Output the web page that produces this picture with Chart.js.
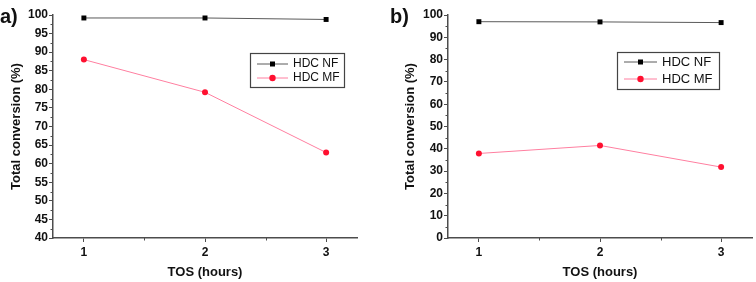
<!DOCTYPE html>
<html>
<head>
<meta charset="utf-8">
<script src="https://cdn.jsdelivr.net/npm/chart.js@4.4.1/dist/chart.umd.min.js"></script>
<style>
  body { margin: 0; background: #fff; }
  #wrap { position: relative; width: 756px; height: 282px; }
  .panel { position: absolute; top: 0; width: 378px; height: 282px; }
</style>
</head>
<body>
<div id="wrap">
  <div class="panel" style="left:0"><canvas id="chartA"></canvas></div>
  <div class="panel" style="left:378px"><canvas id="chartB"></canvas></div>
</div>
<script>
// data
const tosHours = [1, 2, 3];
const xTickLabels = [1, 2, 3];
const nfPanelA = [99.2, 99.2, 98.8];
const mfPanelA = [88.0, 79.2, 63.0];
const nfPanelB = [97.0, 96.9, 96.6];
const mfPanelB = [37.9, 41.5, 31.8];
const seriesNames = ['HDC NF', 'HDC MF'];

const axisColor = '#4d4d4d';
const nfLine = '#5a5a5a';
const mfLine = '#ff7fa0';

function toPoints(vals) {
  return tosHours.map((x, i) => ({ x: x, y: vals[i] }));
}

// minor ticks, titles, legend box and panel letter
const decorPlugin = {
  id: 'decor',
  afterDraw(chart, args, opts) {
    const ctx = chart.ctx;
    const xs = chart.scales.x, ys = chart.scales.y;
    const area = chart.chartArea;
    ctx.save();
    ctx.strokeStyle = axisColor;
    ctx.lineWidth = 1;
    // minor ticks
    for (let v = opts.yMin + opts.yStep / 2; v < opts.yMax; v += opts.yStep) {
      const py = Math.round(ys.getPixelForValue(v)) + 0.5;
      ctx.beginPath(); ctx.moveTo(area.left - 2.5, py); ctx.lineTo(area.left, py); ctx.stroke();
    }
    [1.5, 2.5].forEach(v => {
      const px = Math.round(xs.getPixelForValue(v)) + 0.5;
      ctx.beginPath(); ctx.moveTo(px, area.bottom); ctx.lineTo(px, area.bottom + 2.5); ctx.stroke();
    });

    ctx.fillStyle = '#111';
    ctx.font = 'bold 13px "Liberation Sans", Arial, sans-serif';
    ctx.textAlign = 'center';
    ctx.textBaseline = 'middle';
    ctx.fillText('TOS (hours)', xs.getPixelForValue(2), 272);
    ctx.save();
    ctx.translate(opts.yTitleX, (area.top + area.bottom) / 2);
    ctx.rotate(-Math.PI / 2);
    ctx.fillText('Total conversion (%)', 0, 0);
    ctx.restore();

    ctx.font = 'bold 20px "Liberation Sans", Arial, sans-serif';
    ctx.textAlign = 'left';
    ctx.fillText(opts.letter, opts.letterX, 17);

    // legend
    const L = opts.legend;
    ctx.fillStyle = '#fff';
    ctx.fillRect(L.x, L.y, L.w, L.h);
    ctx.strokeStyle = '#444';
    ctx.lineWidth = 1.2;
    ctx.strokeRect(L.x + 0.5, L.y + 0.5, L.w, L.h);
    chart.data.datasets.forEach((ds, i) => {
      const ry = L.y + L.row0 + i * L.rowGap;
      ctx.strokeStyle = ds.borderColor;
      ctx.lineWidth = 1;
      ctx.beginPath(); ctx.moveTo(L.x + 7, ry); ctx.lineTo(L.x + 7 + L.lineLen, ry); ctx.stroke();
      const mx = L.x + 7 + L.lineLen / 2;
      ctx.fillStyle = ds.pointBackgroundColor;
      if (ds.pointStyle === 'rect') {
        ctx.fillRect(mx - 2.5, ry - 2.5, 5, 5);
      } else {
        ctx.beginPath(); ctx.arc(mx, ry, 3.2, 0, Math.PI * 2); ctx.fill();
      }
      ctx.fillStyle = '#111';
      ctx.font = L.font;
      ctx.textAlign = 'left';
      ctx.fillText(ds.label, L.x + 12 + L.lineLen, ry);
    });
    ctx.restore();
  }
};

function makeChart(id, nf, mf, cfg) {
  return new Chart(document.getElementById(id), {
    type: 'line',
    data: {
      datasets: [
        {
          label: seriesNames[0], data: toPoints(nf),
          borderColor: nfLine, borderWidth: 1,
          pointStyle: 'rect', pointRadius: 3.5,
          pointBackgroundColor: '#000', pointBorderColor: '#000', pointBorderWidth: 0
        },
        {
          label: seriesNames[1], data: toPoints(mf),
          borderColor: mfLine, borderWidth: 1,
          pointStyle: 'circle', pointRadius: 3,
          pointBackgroundColor: '#ff1030', pointBorderColor: '#ff1030', pointBorderWidth: 0
        }
      ]
    },
    options: {
      responsive: true,
      maintainAspectRatio: false,
      animation: false,
      layout: { padding: { left: 0, top: 15, right: cfg.padRight, bottom: 0 } },
      plugins: {
        legend: { display: false },
        tooltip: { enabled: false },
        decor: cfg.decor
      },
      scales: {
        x: {
          type: 'linear', min: 0.745, max: 3.255,
          afterBuildTicks: s => { s.ticks = xTickLabels.map(v => ({ value: v })); },
          afterFit: s => { s.height = 44; },
          grid: { drawOnChartArea: false, tickLength: 4, color: axisColor, tickWidth: 1 },
          border: { color: axisColor, width: 1.5 },
          ticks: { color: '#111', padding: 3, font: { family: '"Liberation Sans", Arial', size: 12, weight: 'bold' } }
        },
        y: {
          min: cfg.decor.yMin, max: cfg.decor.yMax,
          ticks: { stepSize: cfg.decor.yStep, color: '#111', padding: 1, font: { family: '"Liberation Sans", Arial', size: 12, weight: 'bold' } },
          afterFit: s => { s.width = cfg.yWidth; },
          grid: { drawOnChartArea: false, tickLength: 4, color: axisColor, tickWidth: 1 },
          border: { color: axisColor, width: 1.5 }
        }
      }
    },
    plugins: [decorPlugin]
  });
}

makeChart('chartA', nfPanelA, mfPanelA, {
  padRight: 21, yWidth: 53,
  decor: {
    yMin: 40, yMax: 100, yStep: 5, yTitleX: 16, letter: 'a)', letterX: 0,
    legend: { x: 250, y: 53, w: 94, h: 34, row0: 11, rowGap: 14, lineLen: 31, font: '12px "Liberation Sans", Arial, sans-serif' }
  }
});

makeChart('chartB', nfPanelB, mfPanelB, {
  padRight: 3, yWidth: 70,
  decor: {
    yMin: 0, yMax: 100, yStep: 10, yTitleX: 32, letter: 'b)', letterX: 12,
    legend: { x: 239, y: 52, w: 102, h: 37, row0: 10, rowGap: 17, lineLen: 33, font: '13px "Liberation Sans", Arial, sans-serif' }
  }
});
</script>
</body>
</html>
